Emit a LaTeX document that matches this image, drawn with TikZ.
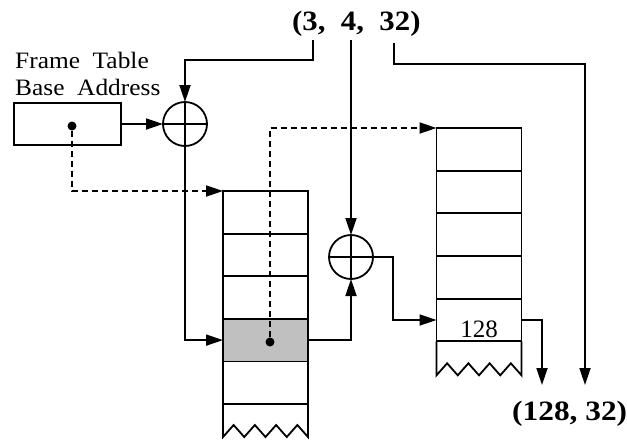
\documentclass[tikz,border=0pt]{standalone}
\usepackage{fontspec}
\setmainfont{Liberation Serif}
\usetikzlibrary{arrows.meta}
\begin{document}
\begin{tikzpicture}[x=1pt,y=-1pt,
  ln/.style={line width=1.8pt},
  arr/.style={ln,-{Triangle[length=17pt,width=11pt]}},
  dsh/.style={arr,dash pattern=on 6pt off 4pt},
  cell/.style={draw,line width=1.8pt,minimum width=85pt,minimum height=42.6pt,inner sep=0pt,outer sep=0pt},
  adder/.style={draw,circle,line width=1.8pt,minimum size=44pt,inner sep=0pt,outer sep=0pt},
  lbl/.style={inner sep=0pt,font=\fontsize{23.5}{28}\selectfont},
  blbl/.style={inner sep=0pt,font=\fontsize{28}{32}\selectfont\bfseries},
  dotn/.style={circle,fill,inner sep=0pt,minimum size=9pt}]
\useasboundingbox (0,0) rectangle (627,440);

% labels
\node[blbl,anchor=base west] (top) at (292,30) {\scalebox{1.1}[1]{(3,\ \ 4,\ \ 32)}};
\node[blbl,anchor=base west] (res) at (512,420) {\scalebox{1.12}[1]{(128, 32)}};
\node[lbl,anchor=base west] (ft1) at (15,68) {\scalebox{1.08}[1]{Frame\ \ Table}};
\node[lbl,anchor=base west] (ft2) at (15,95) {\scalebox{1.08}[1]{Base\ \ Address}};

% frame table base register
\node[draw,ln,minimum width=107pt,minimum height=42pt,inner sep=0pt] (fb) at (67.5,124) {};
\node[dotn] (fbdot) at (72,126) {};

% adders
\node[adder] (c1) at (185,124) {};
\draw[ln] (c1.north) -- (c1.south) (c1.west) -- (c1.east);
\node[adder] (c2) at (351,257) {};
\draw[ln] (c2.north) -- (c2.south) (c2.west) -- (c2.east);

% stack 1 (frame table)
\node[cell] (a1) at (265.5,212.3) {};
\node[cell] (a2) at (265.5,254.9) {};
\node[cell] (a3) at (265.5,297.5) {};
\node[cell,fill={rgb,255:red,192;green,192;blue,192}] (a4) at (265.5,340.1) {};
\node[cell] (a5) at (265.5,382.7) {};
\draw[ln] (a5.south west) -- ++(0,33)
  -- ++(10.625,-12) -- ++(10.625,12) -- ++(10.625,-12) -- ++(10.625,12)
  -- ++(10.625,-12) -- ++(10.625,12) -- ++(10.625,-12) -- ++(10.625,12)
  -- (a5.south east);
\node[dotn] (adot) at (270,342) {};

% stack 2 (page table)
\node[cell] (b1) at (479,149.3) {};
\node[cell] (b2) at (479,192) {};
\node[cell] (b3) at (479,234.6) {};
\node[cell] (b4) at (479,277.3) {};
\node[cell] (b5) at (479,320) {};
\node[inner sep=0pt,font=\fontsize{25}{28}\selectfont,anchor=base] (v128) at (479,337) {128};
\draw[ln] (b5.south west) -- ++(0,34)
  -- ++(10.625,-12) -- ++(10.625,12) -- ++(10.625,-12) -- ++(10.625,12)
  -- ++(10.625,-12) -- ++(10.625,12) -- ++(10.625,-12) -- ++(10.625,12)
  -- (b5.south east);

% coordinates
\coordinate (t3) at (313,40);
\coordinate (t4) at (351,40);
\coordinate (t32) at (394,43);
\coordinate (o1) at (542,385);
\coordinate (o2) at (585,385);

% connectors
\draw[arr] (t3) -- ++(0,20) -| (c1.north);
\draw[arr] (fb.east) -- (c1.west);
\draw[arr] (c1.south) |- (a4.west);
\draw[dsh] (fbdot) |- (a1.north west);
\draw[dsh] (adot) |- (b1.north west);
\draw[arr] (t4) -- (c2.north);
\draw[arr] (a4.east) -| (c2.south);
\draw[arr] (c2.east) -- (393,257) |- (b5.west);
\draw[arr] (b5.east) -| (o1);
\draw[arr] (t32) -- ++(0,21) -| (o2);
\end{tikzpicture}
\end{document}
